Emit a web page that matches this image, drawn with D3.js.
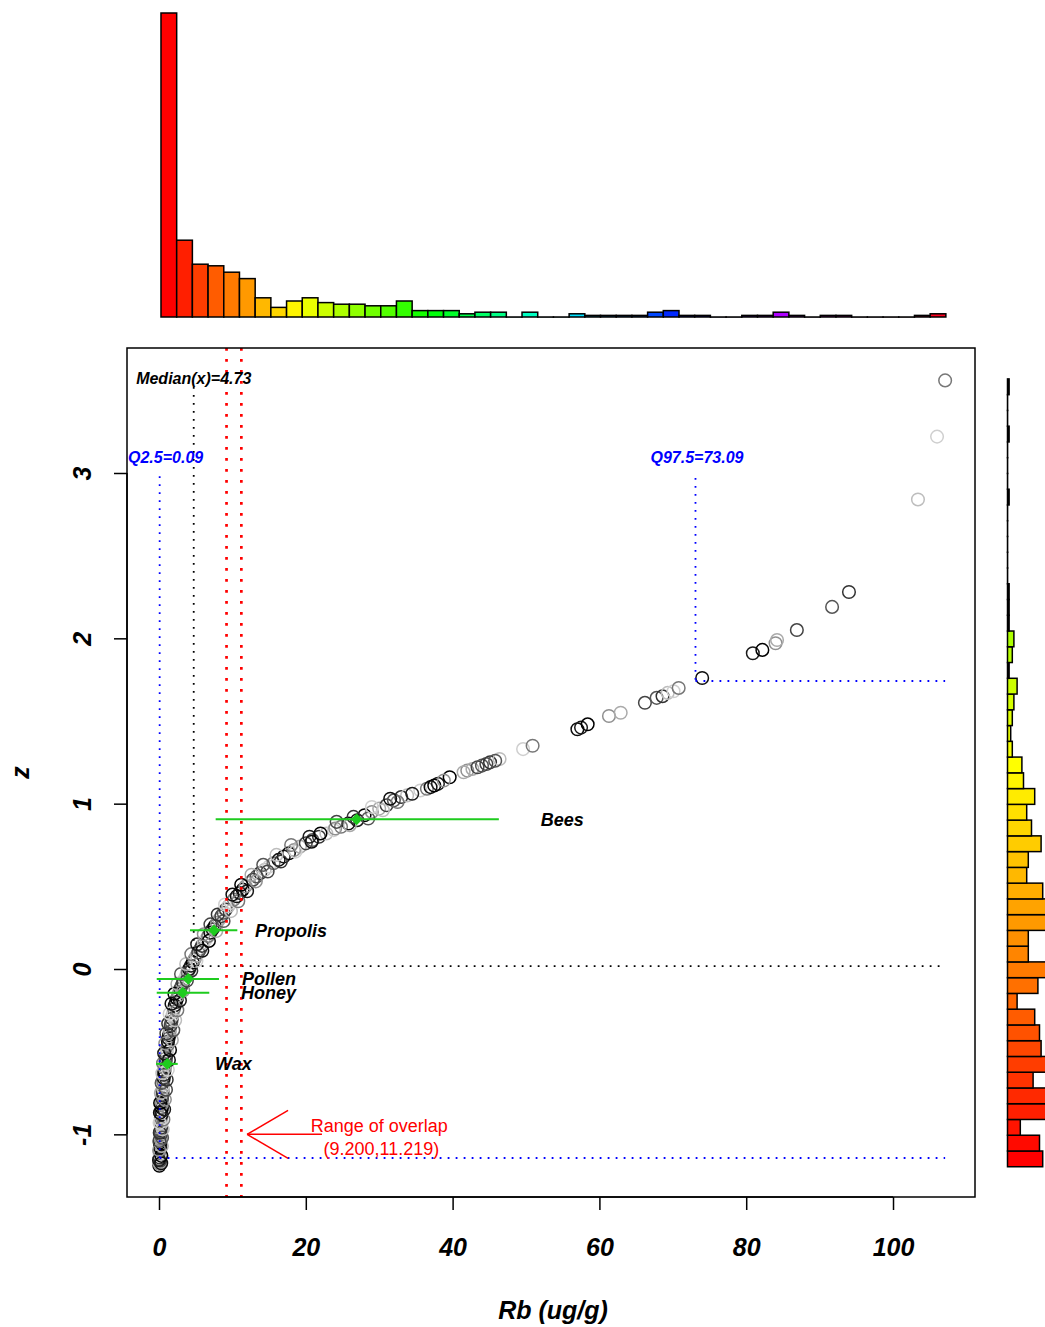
<!DOCTYPE html>
<html>
<head>
<meta charset="utf-8">
<script src="https://cdn.jsdelivr.net/npm/d3@7"></script>
<style>
  body { margin: 0; background: #fff; }
  text { font-family: "Liberation Sans", Arial, sans-serif; }
</style>
</head>
<body>
<div id="chart"></div>
<script>
// Rb values (ug/g) and their z scores
var rbValues = [
  0.05, 0.1, 0.08, 0.15, 0.05, 0.12, 0.1, 0.18, 0.08, 0.15, 0.2, 0.12, 0.22, 0.15, 0.25, 0.18, 0.28, 0.2, 0.3, 0.25,
  0.35, 0.3, 0.4, 0.35, 0.45, 0.42, 0.5, 0.48, 0.55, 0.6, 0.58, 0.65, 0.7, 0.72, 0.8, 0.85, 0.9, 0.95, 1.0, 1.05,
  1.1, 1.18, 1.22, 1.3, 1.38, 1.45, 1.5, 1.6, 1.68, 1.75, 1.85, 1.95, 2.05, 2.15, 2.3, 2.45, 2.6, 2.75, 2.9, 3.1,
  3.3, 3.5, 3.7, 3.9, 4.1, 4.35, 4.6, 4.85, 5.1, 5.35, 5.6, 5.85, 6.1, 6.4, 6.7, 7.0, 7.3, 7.6, 7.9, 8.2,
  8.5, 8.8, 9.1, 9.45, 9.8, 10.2, 10.6, 11.0, 11.4, 11.8, 12.3, 12.8, 13.3, 13.8, 14.4, 15.0, 15.6, 16.3, 17.0, 17.7,
  18.4, 19.2, 20.0, 20.9, 21.8, 22.8, 23.8, 24.8, 25.8, 27.0, 28.0, 29.0, 30.0, 31.0, 32.0, 33.0, 33.8, 35.6, 36.5, 37.0,
  38.0, 39.6, 42.0, 42.7, 43.4, 44.0, 45.1, 46.4, 49.6, 50.9, 57.0, 57.5, 58.4, 61.3, 62.9, 66.2, 67.8, 68.6, 69.3, 70.1,
  70.8, 74.0, 80.9, 82.2, 84.0, 84.2, 86.9, 91.7, 94.0, 103.4, 106.0, 107.1,
  0.3, 0.0, 0.32, 0.02, 0.38, 0.05, 0.42, 0.1, 0.5, 0.08, 0.6, 0.12, 0.7, 0.15, 0.8, 0.25, 0.95, 0.35, 1.05, 0.45,
  1.2, 0.55, 1.35, 0.7, 1.5, 0.85, 1.75, 1.0, 1.95, 1.25, 2.2, 1.45, 2.5, 1.7, 2.85, 2.1, 3.3, 2.5, 3.8, 3.0,
  4.4, 3.7, 5.1, 4.4, 5.9, 5.2, 6.8, 6.1, 7.8, 7.0, 8.8, 8.0, 9.8, 9.0, 10.8, 10.0, 12.0, 11.2, 13.2, 12.6,
  14.8, 14.2, 16.6, 16.0, 18.6, 18.0, 20.8, 20.5, 22.0, 24.0, 26.0, 24.2, 28.5, 26.5, 30.5, 29.0, 32.5, 31.5, 34.5, 37.5,
  38.8, 41.5, 44.6, 45.8
];
var zValues = [
  -1.19, -1.18, -1.17, -1.16, -1.15, -1.14, -1.12, -1.11, -1.10, -1.08, -1.06, -1.05, -1.03, -1.01, -1.00, -0.98, -0.96, -0.94, -0.92, -0.90,
  -0.88, -0.86, -0.84, -0.82, -0.80, -0.78, -0.76, -0.74, -0.72, -0.70, -0.68, -0.66, -0.64, -0.62, -0.60, -0.58, -0.56, -0.54, -0.52, -0.50,
  -0.48, -0.46, -0.44, -0.42, -0.40, -0.38, -0.36, -0.34, -0.32, -0.30, -0.28, -0.26, -0.24, -0.22, -0.20, -0.18, -0.16, -0.14, -0.12, -0.10,
  -0.08, -0.06, -0.04, -0.02, 0.00, 0.02, 0.04, 0.06, 0.08, 0.10, 0.12, 0.14, 0.16, 0.18, 0.20, 0.22, 0.24, 0.26, 0.28, 0.30,
  0.32, 0.34, 0.36, 0.38, 0.40, 0.42, 0.44, 0.46, 0.48, 0.50, 0.52, 0.54, 0.56, 0.58, 0.60, 0.62, 0.64, 0.66, 0.68, 0.70,
  0.72, 0.74, 0.76, 0.78, 0.80, 0.82, 0.84, 0.86, 0.88, 0.90, 0.93, 0.95, 0.97, 0.99, 1.02, 1.04, 1.05, 1.08, 1.09, 1.10,
  1.12, 1.16, 1.20, 1.21, 1.22, 1.23, 1.25, 1.27, 1.33, 1.35, 1.45, 1.46, 1.48, 1.53, 1.55, 1.61, 1.64, 1.65, 1.67, 1.68,
  1.70, 1.76, 1.91, 1.93, 1.97, 1.99, 2.05, 2.19, 2.28, 2.84, 3.22, 3.56,
  -1.175, -1.155, -1.13, -1.095, -1.07, -1.04, -1.02, -0.99, -0.97, -0.93, -0.91, -0.87, -0.85, -0.81, -0.79, -0.75, -0.73, -0.69, -0.67, -0.63,
  -0.61, -0.57, -0.55, -0.51, -0.49, -0.45, -0.43, -0.39, -0.37, -0.33, -0.31, -0.27, -0.25, -0.21, -0.19, -0.15, -0.13, -0.09, -0.07, -0.03,
  -0.01, 0.03, 0.05, 0.09, 0.11, 0.15, 0.17, 0.21, 0.23, 0.27, 0.29, 0.33, 0.35, 0.39, 0.41, 0.45, 0.47, 0.51, 0.53, 0.57,
  0.59, 0.63, 0.65, 0.69, 0.71, 0.75, 0.77, 0.80, 0.82, 0.85, 0.87, 0.89, 0.91, 0.92, 0.96, 0.98, 1.01, 1.03, 1.06, 1.11,
  1.14, 1.19, 1.24, 1.26
];

// Histogram of Rb (top), 50 bins between these limits
var topHistRange = [0.27, 107.2];
var topHistCounts = [190, 48, 33, 32, 28, 24, 12, 6, 10, 12, 9, 8, 8, 7, 7, 10, 4, 4, 4, 2,
  3, 3, 0, 3, 0, 0, 2, 1, 1, 1, 1, 3, 4, 1, 1, 0, 0, 1, 1, 3,
  1, 0, 1, 1, 0, 0, 0, 0, 1, 2];

// Histogram of z (right), 50 bins from bottom to top
var rightHistRange = [-1.196, 3.569];
var rightHistCounts = [22, 20, 8, 27, 25, 16, 26, 21, 20, 17, 6, 19, 24, 13, 13, 28, 25, 22, 12, 13,
  21, 15, 12, 17, 10, 9, 3, 2, 3, 4, 6, 1, 3, 4, 1, 1, 1, 0, 0, 0,
  0, 0, 1, 0, 0, 0, 1, 0, 0, 1];

// Sample groups: mean Rb with its range and z of the mean
var groupNames = ["Bees", "Propolis", "Pollen", "Honey", "Wax"];
var groupMean = [26.93, 7.49, 3.99, 3.23, 1.13];
var groupLow = [7.72, 4.22, -0.31, -0.31, -0.41];
var groupHigh = [46.3, 10.67, 8.17, 6.85, 2.55];
var groupZ = [0.905, 0.234, -0.060, -0.143, -0.574];

// Summary values
var q025 = 0.09, q975 = 73.09, medianX = 4.73;
var zQ025 = -1.143, zQ975 = 1.742, zMedian = 0.018;
var overlap = [9.200, 11.219];

var xTicks = [0, 20, 40, 60, 80, 100];
var yTicks = [-1, 0, 1, 2, 3];

// SVG area and plot box
var svgWidth = 1045;
var svgHeight = 1327;
var box = { left: 127, right: 975, top: 348, bottom: 1197 };

var svg = d3.select("#chart")
  .append("svg")
  .attr("width", svgWidth)
  .attr("height", svgHeight);

var xScale = d3.scaleLinear()
  .domain([-4.36, 111.17])
  .range([box.left, box.right]);

var yScale = d3.scaleLinear()
  .domain([-1.379, 3.756])
  .range([box.bottom, box.top]);

// ---- top histogram ----
var nTop = topHistCounts.length;
var topBin = (topHistRange[1] - topHistRange[0]) / nTop;
var topH = d3.scaleLinear().domain([0, 190]).range([317, 13]);

svg.append("g").selectAll("rect")
  .data(topHistCounts)
  .join("rect")
  .attr("x", (d, i) => xScale(topHistRange[0] + i * topBin))
  .attr("width", (d, i) => xScale(topHistRange[0] + (i + 1) * topBin) - xScale(topHistRange[0] + i * topBin))
  .attr("y", d => topH(d))
  .attr("height", d => Math.max(topH(0) - topH(d), 0.1))   // empty bins still show a base line
  .attr("fill", (d, i) => d3.hsl(i / nTop * 360, 1, 0.5).toString())
  .attr("stroke", "#000")
  .attr("stroke-width", 1.5);

// ---- right histogram ----
var nRight = rightHistCounts.length;
var rightBin = (rightHistRange[1] - rightHistRange[0]) / nRight;
var rightW = d3.scaleLinear().domain([0, 190]).range([1007.5, 1311.5]);

svg.append("g").selectAll("rect")
  .data(rightHistCounts)
  .join("rect")
  .attr("x", rightW(0))
  .attr("y", (d, i) => yScale(rightHistRange[0] + (i + 1) * rightBin))
  .attr("height", (d, i) => yScale(rightHistRange[0] + i * rightBin) - yScale(rightHistRange[0] + (i + 1) * rightBin))
  .attr("width", d => Math.max(rightW(d) - rightW(0), 0.1))
  .attr("fill", (d, i) => d > 1 ? d3.hsl(i * 2.4, 1, 0.5).toString() : "#000")
  .attr("stroke", "#000")
  .attr("stroke-width", 1.5);

// ---- main plot ----
var plot = svg.append("g");

// grey circles
var greys = ["#000000", "#777777", "#333333", "#aaaaaa", "#1a1a1a", "#cfcfcf", "#555555", "#909090", "#0d0d0d", "#bdbdbd", "#444444"];
plot.append("g").selectAll("circle")
  .data(rbValues)
  .join("circle")
  .attr("cx", d => xScale(d))
  .attr("cy", (d, i) => yScale(zValues[i]))
  .attr("r", 6.3)
  .attr("fill", "none")
  .attr("stroke", (d, i) => greys[(i * 7) % greys.length])
  .attr("stroke-width", 1.5);

function seg(x1, z1, x2, z2, color, width, dash) {
  plot.append("line")
    .attr("x1", xScale(x1)).attr("y1", yScale(z1))
    .attr("x2", xScale(x2)).attr("y2", yScale(z2))
    .attr("stroke", color)
    .attr("stroke-width", width)
    .attr("stroke-dasharray", dash);
}

var xMax = d3.max(rbValues);

// quantile and median guides
seg(q025, 2.98, q025, zQ025, "#0000ff", 1.8, "1.8,6.2");
seg(q025, zQ025, xMax, zQ025, "#0000ff", 1.8, "1.8,6.2");
seg(q975, 2.97, q975, zQ975, "#0000ff", 1.8, "1.8,6.2");
seg(q975, zQ975, xMax, zQ975, "#0000ff", 1.8, "1.8,6.2");
seg(medianX, 3.52, medianX, zMedian, "#000000", 1.8, "1.8,6.2");
seg(medianX, zMedian, xMax, zMedian, "#000000", 1.8, "1.8,6.2");

// overlap limits across the whole box
overlap.forEach(function(v) {
  plot.append("line")
    .attr("x1", xScale(v)).attr("x2", xScale(v))
    .attr("y1", box.top).attr("y2", box.bottom)
    .attr("stroke", "#ff0000")
    .attr("stroke-width", 2.7)
    .attr("stroke-dasharray", "2.7,8.3");
});

// guide labels
function label(txt, x, z, color, size, anchor, style) {
  return plot.append("text")
    .attr("x", x)
    .attr("y", yScale(z))
    .attr("dy", "0.35em")
    .attr("text-anchor", anchor)
    .attr("fill", color)
    .attr("font-size", size)
    .attr("font-weight", style === "plain" ? "normal" : "bold")
    .attr("font-style", style === "plain" ? "normal" : "italic")
    .text(txt);
}

label("Median(x)=" + medianX, xScale(medianX), 3.57, "#000", 16, "middle");
var q1 = label("Q2.5=" + q025, xScale(q025), 3.097, "#0000ff", 16, "middle");
var w1 = q1.node().getComputedTextLength();
q1.attr("x", Math.max(xScale(q025), box.left + w1 / 2 + 1));
label("Q97.5=" + q975, xScale(q975) + 1.5, 3.097, "#0000ff", 16, "middle");

// group means with ranges
var labelX = [52.0, 13.08, 11.31, 11.17, 7.63];
groupNames.forEach(function(name, i) {
  seg(groupLow[i], groupZ[i], groupHigh[i], groupZ[i], "#1ecb1e", 2, null);
  plot.append("path")
    .attr("d", d3.symbol(d3.symbolSquare, 70)())
    .attr("transform", "translate(" + xScale(groupMean[i]) + "," + yScale(groupZ[i]) + ") rotate(45)")
    .attr("fill", "#1ecb1e");
  label(name, xScale(labelX[i]), groupZ[i], "#000", 18, "start");
});

// overlap arrow
var arrowZ = -1.0;
var tipX = xScale(12.0), tailX = xScale(22.2), ay = yScale(arrowZ);
plot.append("line")
  .attr("x1", tailX).attr("y1", ay).attr("x2", tipX).attr("y2", ay)
  .attr("stroke", "#ff0000").attr("stroke-width", 1.5);
[-1, 1].forEach(function(s) {
  plot.append("line")
    .attr("x1", tipX).attr("y1", ay)
    .attr("x2", tipX + 41).attr("y2", ay + s * 24)
    .attr("stroke", "#ff0000").attr("stroke-width", 1.5);
});
label("Range of overlap", xScale(30.0), -0.95, "#ff0000", 18, "middle", "plain");
label("(" + overlap[0].toFixed(3) + "," + overlap[1].toFixed(3) + ")", xScale(30.3), -1.089, "#ff0000", 18, "middle", "plain");

// plot box
svg.append("rect")
  .attr("x", box.left).attr("y", box.top)
  .attr("width", box.right - box.left).attr("height", box.bottom - box.top)
  .attr("fill", "none").attr("stroke", "#000").attr("stroke-width", 1.5);

// axes
var bottomAxis = d3.axisBottom(xScale).tickValues(xTicks).tickSize(13).tickFormat(d => String(d));
var leftAxis = d3.axisLeft(yScale).tickValues(yTicks).tickSize(13).tickFormat(d => String(d));

var gx = svg.append("g")
  .attr("transform", "translate(0," + box.bottom + ")")
  .call(bottomAxis);
gx.select(".domain").attr("d", "M" + xScale(0) + ",0H" + xScale(100)).attr("stroke-width", 1.5);
gx.selectAll(".tick line").attr("stroke-width", 1.5);
gx.selectAll(".tick text")
  .attr("font-size", 25).attr("font-weight", "bold").attr("font-style", "italic")
  .attr("font-family", "Liberation Sans, Arial, sans-serif")
  .attr("y", 50).attr("dy", "0.35em");

var gy = svg.append("g")
  .attr("transform", "translate(" + box.left + ",0)")
  .call(leftAxis);
gy.select(".domain").attr("d", "M0," + yScale(-1) + "V" + yScale(3)).attr("stroke-width", 1.5);
gy.selectAll(".tick line").attr("stroke-width", 1.5);
gy.selectAll(".tick text")
  .attr("font-size", 25).attr("font-weight", "bold").attr("font-style", "italic")
  .attr("font-family", "Liberation Sans, Arial, sans-serif")
  .attr("x", null).attr("dy", "0.35em")
  .attr("text-anchor", "middle")
  .attr("transform", "translate(-45,0) rotate(-90)");

// axis titles
svg.append("text")
  .attr("x", (box.left + box.right) / 2 + 2)
  .attr("y", 1310)
  .attr("dy", "0.35em")
  .attr("text-anchor", "middle")
  .attr("font-size", 25).attr("font-weight", "bold").attr("font-style", "italic")
  .text("Rb (ug/g)");

svg.append("text")
  .attr("transform", "translate(20," + ((box.top + box.bottom) / 2) + ") rotate(-90)")
  .attr("dy", "0.35em")
  .attr("text-anchor", "middle")
  .attr("font-size", 25).attr("font-weight", "bold").attr("font-style", "italic")
  .text("z");
</script>
</body>
</html>
